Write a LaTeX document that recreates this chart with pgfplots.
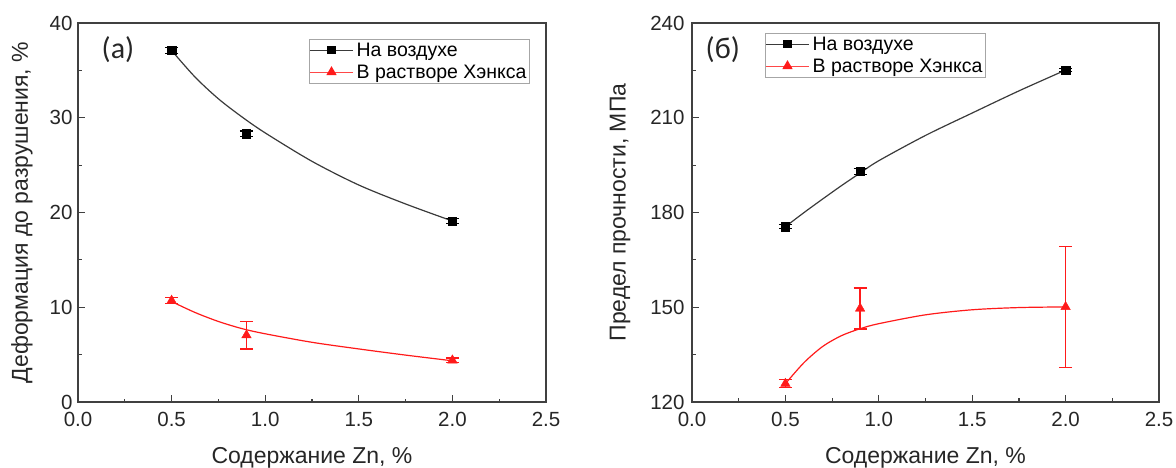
\documentclass[border=0pt]{standalone}
\usepackage{pgfplots}
\usepackage{pgfplotstable}
\pgfplotsset{compat=1.18}
\usepackage{fontspec}
\setmainfont{Liberation Sans}
\newfontfamily\calibri{Carlito}
\definecolor{axgray}{HTML}{404040}
\definecolor{curvegray}{HTML}{3A3A3A}
\definecolor{myred}{HTML}{FF1A1A}

\pgfplotstableread{
x y e
0.5 37.1 0.3
0.9 28.3 0.3
2.0 19.1 0.3
}\airA
\pgfplotstableread{
x y e
0.5 10.7 0.3
0.9 7.05 1.45
2.0 4.4 0.25
}\hanksA
\pgfplotstableread{
x y
0.5 37.1
0.625 34.3
0.75 32.0
0.875 30.1
1.0 28.4
1.25 25.4
1.5 22.9
1.75 20.9
2.0 19.1
}\airAfit
\pgfplotstableread{
x y
0.5 10.6
0.625 9.45
0.75 8.5
0.875 7.75
1.0 7.2
1.25 6.3
1.5 5.6
1.75 4.95
2.0 4.35
}\hanksAfit

\pgfplotstableread{
x y e
0.5 175.5 0.6
0.9 193.0 0.9
2.0 225.1 0.4
}\airB
\pgfplotstableread{
x y e
0.5 125.8 1.3
0.9 149.6 6.5
2.0 150.1 19.1
}\hanksB
\pgfplotstableread{
x y
0.5 175.5
0.6 180.0
0.7 184.3
0.8 188.5
0.9 192.5
1.0 196.4
1.25 204.4
1.5 211.5
1.75 218.5
2.0 225.1
}\airBfit
\pgfplotstableread{
x y
0.5 125.8
0.6 132.5
0.7 137.6
0.8 141.0
0.9 143.2
1.0 144.8
1.25 147.6
1.5 149.2
1.75 149.9
2.0 150.1
}\hanksBfit

\pgfplotsset{
  myaxis/.style={
    scale only axis,
    height=379bp,
    xmin=0, xmax=2.5,
    xtick={0,0.5,1,1.5,2,2.5},
    minor x tick num=1,
    minor y tick num=1,
    tick align=inside,
    xtick pos=bottom, ytick pos=left,
    major tick length=7bp, minor tick length=3.5bp,
    axis line style={axgray, line width=1.5bp},
    every tick/.style={axgray, line width=1.2bp},
    tick label style={font=\fontsize{20.5bp}{23bp}\selectfont, text=black!85},
    label style={font=\fontsize{23bp}{26bp}\selectfont, text=black!85},
    /pgf/number format/assume math mode=true,
    xticklabel style={/pgf/number format/.cd, fixed, fixed zerofill, precision=1, /tikz/.cd, yshift=-7bp},
    xlabel={Содержание Zn, \%},
    xlabel style={at={(axis description cs:0.5,-0.1475)}, anchor=center},
    legend cell align=left,
    legend style={draw=gray!70, line width=0.8bp, font=\fontsize{19.5bp}{22bp}\selectfont,
      inner xsep=0bp, inner ysep=1.5bp, row sep=3bp, anchor=north west,
      nodes={inner xsep=3bp, inner ysep=2bp}},
    legend image code/.code={\draw[mark repeat=2,mark phase=2,#1] plot coordinates {(0bp,0bp) (21.5bp,0bp) (43bp,0bp)};},
  },
  airmarks/.style={only marks, mark=square*, black, mark size=4.2bp,
    error bars/.cd, y dir=both, y explicit,
    error bar style={line width=1.2bp, color=black},
    error mark options={rotate=90, mark size=6.5bp, line width=1.2bp, color=black}},
  hanksmarks/.style={only marks, mark=triangle*, color=myred, mark size=5.5bp,
    error bars/.cd, y dir=both, y explicit,
    error bar style={line width=1.3bp, color=myred},
    error mark options={rotate=90, mark size=6.5bp, line width=1.3bp, color=myred}},
}

\begin{document}
\begin{tikzpicture}
\useasboundingbox (0,0) rectangle (1176bp,468bp);
% left panel
\begin{axis}[myaxis, width=468bp,
  at={(78bp,66bp)}, anchor=south west,
  ymin=0, ymax=40, ytick={0,10,20,30,40},
  yticklabel style={xshift=-2bp},
  ylabel={Деформация до разрушения, \%},
  ylabel style={at={(axis description cs:-0.1197,0.5)}, anchor=center},
  legend style={at={(axis description cs:0.4936,0.958)}},
]
\addplot[curvegray, line width=1.2bp, smooth, forget plot] table[x=x,y=y]{\airAfit};
\addplot[myred, line width=1.2bp, smooth, forget plot] table[x=x,y=y]{\hanksAfit};
\addplot[forget plot, airmarks] table[x=x,y=y,y error=e]{\airA};
\addplot[forget plot, hanksmarks] table[x=x,y=y,y error=e]{\hanksA};
\addlegendimage{curvegray, line width=1.2bp, mark=square*, mark size=3.5bp, mark options={black}}
\addlegendentry{На воздухе}
\addlegendimage{myred!80, line width=1bp, mark=triangle*, mark size=5bp, mark options={myred}}
\addlegendentry{В растворе Хэнкса}
\node[font=\calibri\fontsize{30bp}{32bp}\selectfont, text=black!85] at (axis description cs:0.0855,0.929) {(a)};
\end{axis}
% right panel
\begin{axis}[myaxis, width=467bp,
  at={(692bp,66bp)}, anchor=south west,
  ymin=120, ymax=240, ytick={120,150,180,210,240},
  yticklabel style={xshift=-4bp},
  ylabel={Предел прочности, МПа},
  ylabel style={at={(axis description cs:-0.154,0.5)}, anchor=center},
  legend style={at={(axis description cs:0.1563,0.974)}},
]
\addplot[curvegray, line width=1.2bp, smooth, forget plot] table[x=x,y=y]{\airBfit};
\addplot[myred, line width=1.2bp, smooth, forget plot] table[x=x,y=y]{\hanksBfit};
\addplot[forget plot, airmarks] table[x=x,y=y,y error=e]{\airB};
\addplot[forget plot, hanksmarks] table[x=x,y=y,y error=e]{\hanksB};
\addlegendimage{curvegray, line width=1.2bp, mark=square*, mark size=3.5bp, mark options={black}}
\addlegendentry{На воздухе}
\addlegendimage{myred!80, line width=1bp, mark=triangle*, mark size=5bp, mark options={myred}}
\addlegendentry{В растворе Хэнкса}
\node[font=\calibri\fontsize{30bp}{32bp}\selectfont, text=black!85] at (axis description cs:0.066,0.929) {(б)};
\end{axis}
\end{tikzpicture}
\end{document}
